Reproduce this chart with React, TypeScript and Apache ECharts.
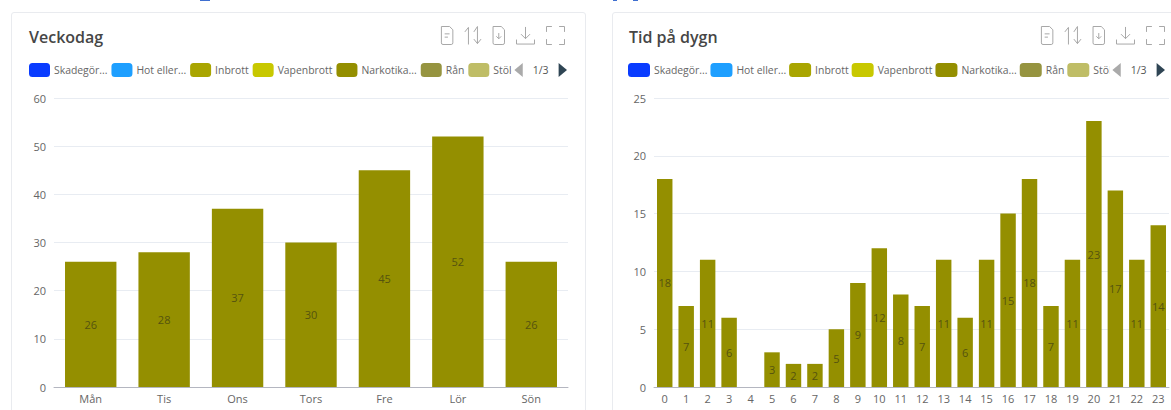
import React, { useEffect, useRef } from "react";
import * as echarts from "echarts";

const legendNames = ["Skadegörelse", "Hot eller våld", "Inbrott", "Vapenbrott", "Narkotikabrott", "Rån", "Stöld", "Övrigt"];
const legendLabels = ["Skadegör...", "Hot eller...", "Inbrott", "Vapenbrott", "Narkotika...", "Rån", "Stöld", "Övrigt"];
const legendColors = ["#0a3cff", "#1e9fff", "#a9a500", "#c8c800", "#948f00", "#969440", "#bfbd66", "#d8d6a0"];
const activeSeries = "Narkotikabrott";

const weekdays = ["Mån", "Tis", "Ons", "Tors", "Fre", "Lör", "Sön"];
const weekdayValues = [26, 28, 37, 30, 45, 52, 26];

const hours = ["0","1","2","3","4","5","6","7","8","9","10","11","12","13","14","15","16","17","18","19","20","21","22","23"];
const hourValues = [18, 7, 11, 6, 0, 3, 2, 2, 5, 9, 12, 8, 7, 11, 6, 11, 15, 18, 7, 11, 23, 17, 11, 14];

const iconPaths = [
  "M3 1H13L17 5V21Q17 23 15 23H5Q3 23 3 21ZM7 10H13M7 14H11",
  "M6 22V3M6 3L2 8M16 2V21M16 21L20 16M12 8L16 2M16 21L12 16",
  "M3 1H13L17 5V21Q17 23 15 23H5Q3 23 3 21ZM10 9V16M7 13L10 16L13 13",
  "M12 2V15M7 10L12 15L17 10M2 16V21H22V16",
  "M2 8V2H8M16 2H22V8M22 16V22H16M8 22H2V16",
];
const iconNames = ["myDoc", "mySort", "myExport", "myDownload", "myFull"];

function buildOption(title: string, cats: string[], values: number[], max: number, interval: number, gridLeft: number, gridRight: number, titleLeft: number, legendLeft: number, legendWidth: number, itemWidth: number, legendGap: number, barWidth: string, toolRight: number) {
  const feature: any = {};
  iconNames.forEach((n, i) => {
    feature[n] = { show: true, title: " ", icon: "path://" + iconPaths[i], onclick: () => {} };
  });
  return {
    animation: false,
    title: { text: title, left: titleLeft, top: 11, textStyle: { fontFamily: "Open Sans", fontSize: 16, fontWeight: 600, color: "#464646" } },
    toolbox: {
      right: toolRight, top: -4, itemSize: 18, itemGap: 7,
      showTitle: false,
      iconStyle: { color: "none", borderColor: "#a8a8a8", borderWidth: 1 },
      feature,
    },
    legend: {
      type: "scroll",
      left: legendLeft, top: 45, width: legendWidth,
      itemWidth, itemHeight: 14, itemGap: legendGap,
      formatter: (name: string) => legendLabels[legendNames.indexOf(name)],
      pageFormatter: "1/3",
      pageIconColor: "#2f4554", pageIconInactiveColor: "#aaa", pageIconSize: [9, 14],
      pageButtonGap: 3, pageButtonItemGap: 5,
      pageTextStyle: { color: "#555", fontSize: 10.5, fontFamily: "Open Sans" },
      textStyle: { fontFamily: "Open Sans", fontSize: 10.4, color: "#666", padding: [0, 0, 0, -1] },
      data: legendNames,
    },
    grid: { left: gridLeft, right: gridRight, top: 85, bottom: 24 },
    xAxis: {
      type: "category", data: cats,
      axisLine: { lineStyle: { color: "#b4b6c0" } },
      axisTick: { lineStyle: { color: "#8a8c96" } },
      axisLabel: { color: "#666", fontFamily: "Open Sans", fontSize: 11, margin: 6, interval: 0 },
    },
    yAxis: {
      type: "value", min: 0, max, interval,
      axisLabel: { color: "#666", fontFamily: "Open Sans", fontSize: 11, margin: 8 },
      splitLine: { lineStyle: { color: "#e8ecf2" } },
    },
    series: legendNames.map((n, i) => ({
      name: n,
      type: "bar",
      stack: "a",
      barWidth,
      itemStyle: { color: legendColors[i] },
      data: n === activeSeries ? values : cats.map(() => null),
      label: {
        show: n === activeSeries, position: "inside",
        color: "#55530f", fontFamily: "Open Sans", fontSize: 11,
        formatter: (p: any) => (p.value ? String(p.value) : ""),
      },
    })),
  };
}

const cardStyle: React.CSSProperties = { position: "absolute", background: "#fff", border: "1px solid #e9ebef", borderRadius: 3, boxSizing: "border-box", overflow: "hidden" };
const speck = (left: number, width: number): React.CSSProperties => ({ position: "absolute", left, top: 0, width, height: 1, background: "#3f6fd0" });

export default function App() {
  const a = useRef<HTMLDivElement>(null);
  const b = useRef<HTMLDivElement>(null);
  useEffect(() => {
    const c1 = echarts.init(a.current!, undefined, { renderer: "svg" });
    const c2 = echarts.init(b.current!, undefined, { renderer: "svg" });
    c1.setOption(buildOption("Veckodag", weekdays, weekdayValues, 60, 10, 42, 17, 12, 12, 538, 21, 4, "70%", 3));
    c2.setOption(buildOption("Tid på dygn", hours, hourValues, 25, 5, 41, 3, 11, 10, 537, 22, 3, "72%", -10));
    return () => { c1.dispose(); c2.dispose(); };
  }, []);
  return (
    <div style={{ position: "fixed", left: 0, top: 0, width: 1171, height: 410, background: "#fff", overflow: "hidden" }}>
      <div style={speck(200, 10)} />
      <div style={speck(613, 4)} />
      <div style={speck(633, 5)} />
      <div style={{ ...cardStyle, left: 11, top: 12, width: 575, height: 410 }}>
        <div ref={a} style={{ width: 573, height: 398 }} />
      </div>
      <div style={{ ...cardStyle, left: 612, top: 12, width: 570, height: 410 }}>
        <div ref={b} style={{ width: 559, height: 398 }} />
      </div>
    </div>
  );
}
